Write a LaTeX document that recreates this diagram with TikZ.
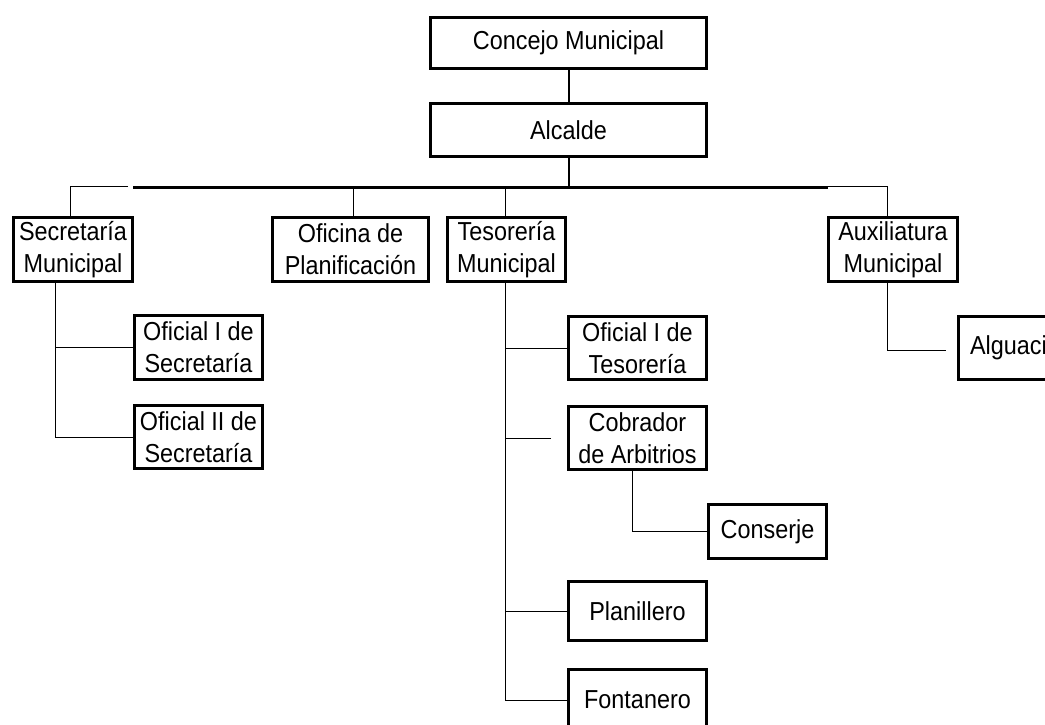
\documentclass[tikz,border=0pt]{standalone}
\usepackage{fontspec}
\setmainfont{Liberation Sans}[FakeStretch=0.9]
\tikzset{
  cargo/.style={draw, line width=3pt, inner sep=0pt, align=center, minimum height=64pt,
    font=\fontsize{26}{32}\selectfont},
  enlace/.style={line width=1pt},
}
\begin{document}
\begin{tikzpicture}[x=1pt,y=-1pt]
  \useasboundingbox (0,0) rectangle (1045,724);
  \clip (0,0) rectangle (1045,724);
  % 
  \node[cargo, minimum width=276pt, minimum height=51pt] (concejo) at (568.5,43) {Concejo Municipal};
  \node[cargo, minimum width=276pt, minimum height=53pt] (alcalde) at (568.5,130) {Alcalde};
  % 
  \node[cargo, minimum width=119pt] (secretaria) at (73,249.5) {Secretaría\\Municipal};
  \node[cargo, minimum width=156pt] (oficina) at (350.5,249.5) {Oficina de\\Planificación};
  \node[cargo, minimum width=118pt] (tesoreria) at (506.5,249.5) {Tesorería\\Municipal};
  \node[cargo, minimum width=129pt] (auxiliatura) at (893,249.5) {Auxiliatura\\Municipal};
  % 
  \node[cargo, minimum width=128pt, minimum height=64pt] (ofsec1) at (198.5,347.5) {Oficial I de\\Secretaría};
  \node[cargo, minimum width=128pt, minimum height=63pt] (ofsec2) at (198.5,437) {Oficial II de\\Secretaría};
  % 
  \node[cargo, minimum width=138pt, minimum height=63pt] (oftes) at (637.5,348) {Oficial I de\\Tesorería};
  \node[cargo, minimum width=138pt, minimum height=63pt] (cobrador) at (637.5,438) {Cobrador\\de Arbitrios};
  \node[cargo, minimum width=118pt, minimum height=54pt] (conserje) at (767.5,531.5) {Conserje};
  \node[cargo, minimum width=138pt, minimum height=59pt] (planillero) at (637.5,611) {Planillero};
  \node[cargo, minimum width=138pt, minimum height=61pt] (fontanero) at (637.5,700) {Fontanero};
  % 
  \node[cargo, minimum width=130pt, minimum height=63pt, text width=106pt, align=left] (alguacil) at (1023,348) {Alguaci};
  % 
  \coordinate (busL) at (133,187);
  \coordinate (busR) at (828,187);
  \coordinate (izq) at (128,186);
  \coordinate (der) at (828,186);
  \draw[line width=3pt] (busL) -- (busR);
  \draw[line width=2pt] (concejo.south) -- (alcalde.north);
  \draw[line width=2pt] (alcalde.south) -- (alcalde.south |- busL);
  \draw[enlace] (izq) -| ([xshift=-3pt]secretaria.north);
  \draw[enlace] (der) -| ([xshift=-6pt]auxiliatura.north);
  \draw[enlace] ([xshift=2.5pt]oficina.north) -- ([xshift=2.5pt]oficina.north |- busL);
  \draw[enlace] ([xshift=-1.5pt]tesoreria.north) -- ([xshift=-1.5pt]tesoreria.north |- busL);
  % 
  \coordinate (secbaja) at ([xshift=-18pt]secretaria.south);
  \draw[enlace] (secbaja) |- (ofsec2.west);
  \draw[enlace] (ofsec1.west) -- (ofsec1.west -| secbaja);
  % 
  \coordinate (tesbaja) at ([xshift=-1.5pt]tesoreria.south);
  \coordinate (cobfin) at ([xshift=-16pt]cobrador.west);
  \draw[enlace] (tesbaja) |- (fontanero.west);
  \draw[enlace] (oftes.west) -- (oftes.west -| tesbaja);
  \draw[enlace] (cobfin) -- (cobrador.west -| tesbaja);
  \draw[enlace] (planillero.west) -- (planillero.west -| tesbaja);
  \draw[enlace] ([xshift=-5.5pt]cobrador.south) |- (conserje.west);
  % 
  \coordinate (auxfin) at ([xshift=-11pt,yshift=-2pt]alguacil.west);
  \draw[enlace] ([xshift=-6pt]auxiliatura.south) |- (auxfin);
\end{tikzpicture}
\end{document}
